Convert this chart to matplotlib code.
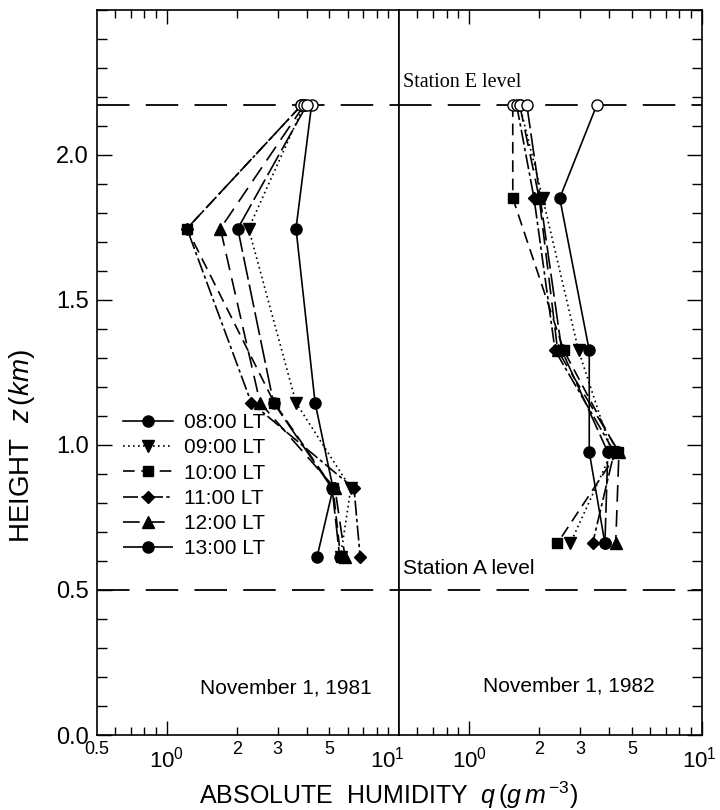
import matplotlib
matplotlib.use("Agg")
import matplotlib.pyplot as plt
from matplotlib.lines import Line2D
from matplotlib.ticker import FixedLocator, NullFormatter
import matplotlib.transforms as mtransforms

plt.rcParams['font.family'] = ['Liberation Sans', 'DejaVu Sans']
plt.rcParams['mathtext.fontset'] = 'custom'
plt.rcParams['mathtext.rm'] = 'Liberation Sans'
plt.rcParams['mathtext.it'] = 'Liberation Sans:italic'

# ---- data -------------------------------------------------------------
times = ["08:00 LT", "09:00 LT", "10:00 LT", "11:00 LT", "12:00 LT", "13:00 LT"]
station_e_z = 2.17
station_a_z = 0.50

# November 1, 1981: heights (km), first value is at station E
z_1981 = [2.17, 1.745, 1.145, 0.85, 0.615]
q_1981_0800 = [4.20, 3.60, 4.35, 5.20, 4.44]
q_1981_0900 = [3.90, 2.25, 3.60, 6.20, 5.60]
q_1981_1000 = [3.80, 1.22, 2.90, 5.20, 5.60]
q_1981_1100 = [3.80, 1.22, 2.31, 6.40, 6.80]
q_1981_1200 = [3.90, 1.70, 2.52, 5.30, 5.85]
q_1981_1300 = [4.00, 2.02, 2.88, 5.15, 5.55]

# November 1, 1982
z_1982 = [2.17, 1.85, 1.325, 0.975, 0.66]
q_1982_0800 = [3.53, 2.45, 3.28, 3.28, 3.83]
q_1982_0900 = [1.65, 2.07, 2.95, 4.10, 2.72]
q_1982_1000 = [1.54, 1.54, 2.55, 4.35, 2.39]
q_1982_1100 = [1.60, 1.90, 2.34, 4.20, 3.39]
q_1982_1200 = [1.65, 2.00, 2.40, 4.40, 4.26]
q_1982_1300 = [1.77, 2.02, 2.50, 3.94, 3.83]

q_1981 = [q_1981_0800, q_1981_0900, q_1981_1000, q_1981_1100, q_1981_1200, q_1981_1300]
q_1982 = [q_1982_0800, q_1982_0900, q_1982_1000, q_1982_1100, q_1982_1200, q_1982_1300]

x_major_labels = {1: r"$10^0$", 10: r"$10^1$"}
x_minor_labels = {2: "2", 3: "3", 5: "5"}
y_ticks = [0.0, 0.5, 1.0, 1.5, 2.0]

# ---- styles -----------------------------------------------------------
markers = ['o', 'v', 's', 'D', '^', 'o']
msizes = [8, 8, 7.5, 6.5, 8, 8]
styles = ['-', (0, (1, 2)), (0, (7, 4)), (0, (9, 2, 2, 2)), (0, (10, 5)), (0, (14, 3))]
lw = 1.2

fig = plt.figure(figsize=(7.2, 8.1), dpi=100)
W, H = 720, 810
x0, xm, x1 = 97, 399, 702
ytop, ybot = 9.5, 735
axL = fig.add_axes([x0 / W, 1 - ybot / H, (xm - x0) / W, (ybot - ytop) / H])
axR = fig.add_axes([xm / W, 1 - ybot / H, (x1 - xm) / W, (ybot - ytop) / H], sharey=axL)

# x position of the "10^1" label in each panel
ten_label_x = {id(axL): 8.9, id(axR): 9.75}

for ax, zs, qs in ((axL, z_1981, q_1981), (axR, z_1982, q_1982)):
    ax.set_xscale('log')
    ax.set_xlim(0.5, 10)
    ax.set_ylim(0, 2.5)
    for q, m, ms, ls in zip(qs, markers, msizes, styles):
        ax.plot(q, zs, color='black', lw=lw, ls=ls, zorder=2)
        ax.plot(q[1:], zs[1:], ls='none', marker=m, ms=ms, color='black', zorder=3)
        ax.plot(q[:1], zs[:1], ls='none', marker='o', ms=8, mfc='white',
                mec='black', mew=1.0, zorder=4)
    for zlev in (station_e_z, station_a_z):
        ax.axhline(zlev, color='black', lw=1.3, ls=(0, (18, 9)), zorder=1)
    for s in ax.spines.values():
        s.set_linewidth(1.2)

    # x ticks: inward on bottom and top, labels drawn as text below
    ax.xaxis.set_major_locator(FixedLocator([1, 10]))
    ax.xaxis.set_minor_locator(FixedLocator([0.6, 0.7, 0.8, 0.9, 2, 3, 4, 5, 6, 7, 8, 9]))
    ax.xaxis.set_major_formatter(NullFormatter())
    ax.xaxis.set_minor_formatter(NullFormatter())
    ax.tick_params(axis='x', which='both', direction='in', top=True, bottom=True, width=1.0)
    ax.tick_params(axis='x', which='major', length=10)
    ax.tick_params(axis='x', which='minor', length=6)

    trans = mtransforms.blended_transform_factory(ax.transData, ax.transAxes)
    for v, lab in x_major_labels.items():
        xv = v if v != 10 else ten_label_x[id(ax)]
        ax.text(xv, -0.016, lab, transform=trans, ha='center', va='top', fontsize=16,
                clip_on=False)
    for v, lab in x_minor_labels.items():
        ax.text(v, -0.008, lab, transform=trans, ha='center', va='top', fontsize=13)

axL.text(0.5, -0.008, "0.5", transform=mtransforms.blended_transform_factory(axL.transData, axL.transAxes),
         ha='center', va='top', fontsize=13)

# y ticks
axL.set_yticks(y_ticks)
axL.set_yticklabels([f"{v:.1f}" for v in y_ticks], fontsize=17)
axL.yaxis.set_minor_locator(FixedLocator([i / 10 for i in range(0, 26)]))
axL.tick_params(axis='y', which='both', direction='in', left=True, right=False, width=1.0)
axL.tick_params(axis='y', which='major', length=11, pad=6)
axL.tick_params(axis='y', which='minor', length=7)
axR.tick_params(axis='y', which='both', direction='in', left=False, right=True,
                labelleft=False, width=1.0)
axR.tick_params(axis='y', which='major', length=11)
axR.tick_params(axis='y', which='minor', length=7)

# annotations
axR.text(0.52, 2.215, "Station E level", family=['Liberation Serif', 'DejaVu Serif'],
         fontsize=14.5, ha='left', va='bottom')
axR.text(0.52, 0.54, "Station A level", fontsize=15, ha='left', va='bottom')
axL.text(0.91, 0.065, "November 1, 1981", fontsize=15, ha='right', va='center',
         transform=axL.transAxes)
axR.text(0.845, 0.068, "November 1, 1982", fontsize=15, ha='right', va='center',
         transform=axR.transAxes)

# legend
handles = [Line2D([], [], color='black', lw=lw, ls=ls, marker=m, ms=ms)
           for m, ms, ls in zip(markers, msizes, styles)]
axL.legend(handles, times, loc='upper left', bbox_to_anchor=(0.06, 0.455), frameon=False,
           fontsize=15, handlelength=2.4, handletextpad=0.5, labelspacing=0.3,
           borderaxespad=0)

fig.text(0.5 + 0.04, 1 - 795 / H, r"ABSOLUTE  HUMIDITY  $q\,(g\,m^{\,\mathrm{-3}})$", ha='center',
         va='center', fontsize=18)
fig.text(0.03, 1 - 446 / H, r"HEIGHT  $z\,(km)$", rotation=90, ha='center', va='center',
         fontsize=20)

fig.savefig("out.png", dpi=100)
